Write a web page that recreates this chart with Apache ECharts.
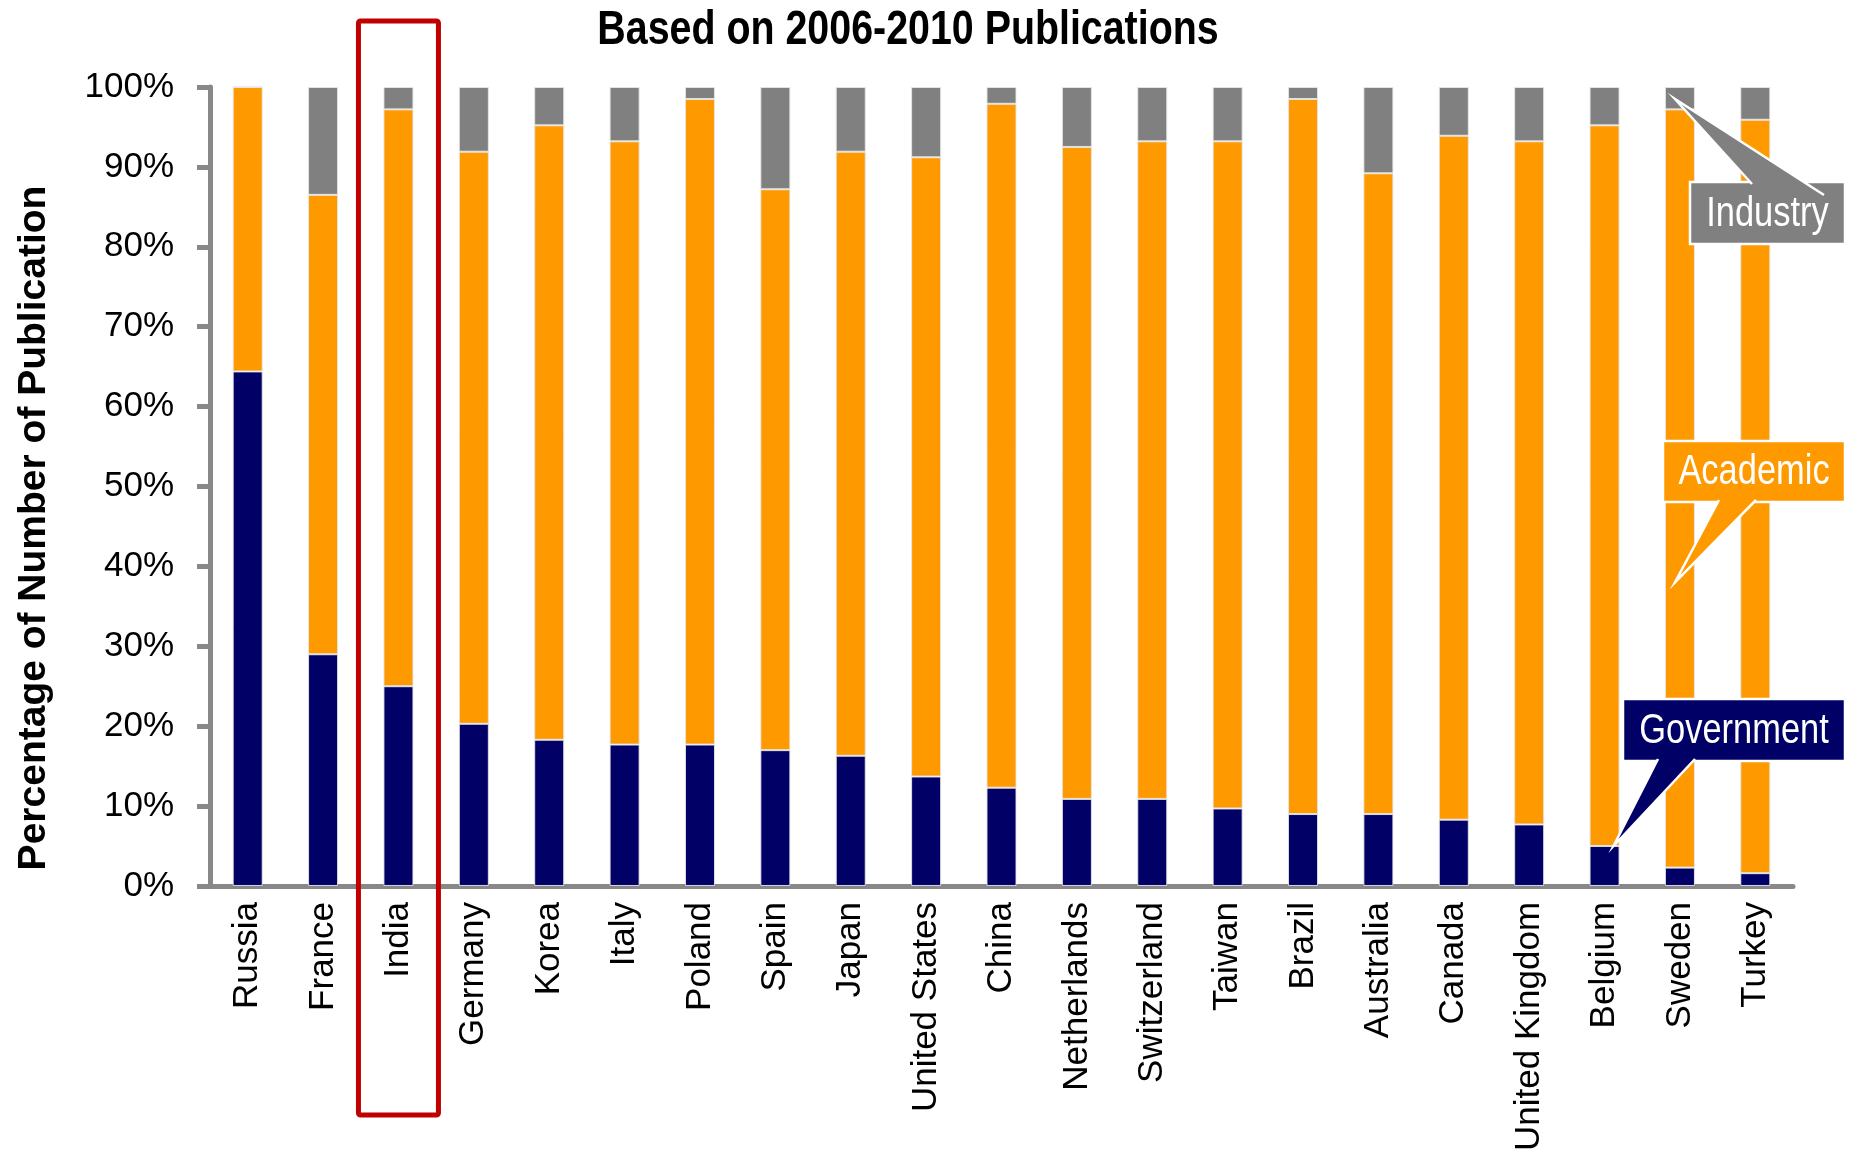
<!DOCTYPE html>
<html>
<head>
<meta charset="utf-8">
<script src="https://cdn.jsdelivr.net/npm/echarts@6/dist/echarts.min.js"></script>
<style>
html,body{margin:0;padding:0;background:#fff;}
#chart{width:1852px;height:1154px;}
</style>
</head>
<body>
<div id="chart"></div>
<script>
// ---- data ----
const categories = ['Russia','France','India','Germany','Korea','Italy','Poland','Spain','Japan','United States','China','Netherlands','Switzerland','Taiwan','Brazil','Australia','Canada','United Kingdom','Belgium','Sweden','Turkey'];
const government = [64.4, 29.0, 25.0, 20.3, 18.3, 17.7, 17.7, 17.0, 16.3, 13.7, 12.3, 10.9, 10.9, 9.7, 9.0, 9.0, 8.3, 7.7, 5.0, 2.3, 1.6];
const academic   = [35.6, 57.5, 72.2, 71.6, 76.9, 75.5, 80.8, 70.2, 75.6, 77.5, 85.6, 81.6, 82.3, 83.5, 89.5, 80.2, 85.6, 85.5, 90.2, 94.9, 94.3];
const industry   = [0.0, 13.5, 2.8, 8.1, 4.8, 6.8, 1.5, 12.8, 8.1, 8.8, 2.1, 7.5, 6.8, 6.8, 1.5, 10.8, 6.1, 6.8, 4.8, 2.8, 4.1];
const seriesNames = ['Government', 'Academic', 'Industry'];
const titleText = 'Based on 2006-2010 Publications';
const yAxisTitle = 'Percentage of Number of Publication';
const highlightCategory = 'India';

// ---- styles ----
const REG = "'Liberation Sans',Arial,sans-serif";
const C_GOV = '#000066', C_ACA = '#FF9900', C_IND = '#808080', C_AXIS = '#888888';
const NARROW_SCALE = 0.82;

const chart = echarts.init(document.getElementById('chart'), null, {renderer: 'canvas'});

function barSeries(name, data, color) {
  return {
    name: name, type: 'bar', stack: 'total', data: data, barWidth: 30,
    itemStyle: {color: color, borderColor: 'rgba(230,230,230,0.9)', borderWidth: 1},
    emphasis: {disabled: true}
  };
}

chart.setOption({
  animation: false,
  backgroundColor: '#fff',
  grid: {left: 210, right: 59, top: 87, bottom: 267, containLabel: false},
  xAxis: {
    type: 'category', data: categories,
    axisLine: {show: true, lineStyle: {color: C_AXIS, width: 5}},
    axisTick: {show: false},
    axisLabel: {rotate: 90, margin: 16, fontFamily: REG, fontSize: 35, color: '#000', interval: 0}
  },
  yAxis: {
    type: 'value', min: 0, max: 100, interval: 10,
    axisLine: {show: true, lineStyle: {color: C_AXIS, width: 5}},
    axisTick: {show: true, length: 13, lineStyle: {color: C_AXIS, width: 5}},
    splitLine: {show: false},
    axisLabel: {formatter: '{value}%', margin: 36, fontFamily: REG, fontSize: 35, color: '#000'}
  },
  series: [
    barSeries(seriesNames[0], government, C_GOV),
    barSeries(seriesNames[1], academic, C_ACA),
    barSeries(seriesNames[2], industry, C_IND)
  ]
});

// ---- annotations ----
function px(cat, val) { return chart.convertToPixel({gridIndex: 0}, [cat, val]); }

function narrowText(text, x, y, font, fill, z) {
  return {type: 'text', x: x, y: y, scaleX: NARROW_SCALE, scaleY: 1, z: z,
    style: {text: text, fill: fill, font: font, align: 'center', verticalAlign: 'middle'}};
}

function callout(box, base1, base2, tip, fill, label) {
  return [
    {type: 'rect', shape: {x: box[0], y: box[1], width: box[2], height: box[3]},
     style: {fill: fill, stroke: '#fff', lineWidth: 2.5}, z: 100},
    {type: 'polygon', shape: {points: [tip, base1, base2]}, style: {fill: fill}, z: 101},
    {type: 'polyline', shape: {points: [base1, tip, base2]},
     style: {stroke: '#fff', lineWidth: 2.5, fill: null}, z: 102},
    narrowText(label, box[0] + box[2] / 2, box[1] + box[3] / 2 + 1, '42px ' + REG, '#fff', 103)
  ];
}

const sw = px('Sweden', 98.5);
const swA = px('Sweden', 38);
const be = px('Belgium', government[categories.indexOf('Belgium')]);
const ind = px(highlightCategory, 0);

const graphics = [];
graphics.push(narrowText(titleText, 908, 31, 'bold 48px ' + REG, '#000', 90));
graphics.push(...callout([1690, 182, 155, 62], [1752, 184], [1824, 195], [sw[0] - 5, sw[1]], C_IND, seriesNames[2]));
graphics.push(...callout([1663, 441, 182, 61], [1719, 500], [1756, 500], [swA[0] - 5, swA[1]], C_ACA, seriesNames[1]));
graphics.push(...callout([1623, 699, 222, 62], [1658, 759], [1695, 759], [be[0] + 9, be[1]], C_GOV, seriesNames[0]));
graphics.push({
  type: 'rect', shape: {x: ind[0] - 40, y: 21, width: 80, height: 1094, r: 2},
  style: {fill: null, stroke: '#C00000', lineWidth: 5}, z: 90
});
graphics.push({
  type: 'text', x: 34, y: 528, rotation: Math.PI / 2, z: 90,
  style: {text: yAxisTitle, font: 'bold 39px ' + REG, fill: '#000', align: 'center', verticalAlign: 'middle'}
});
chart.setOption({graphic: graphics});
</script>
</body>
</html>
